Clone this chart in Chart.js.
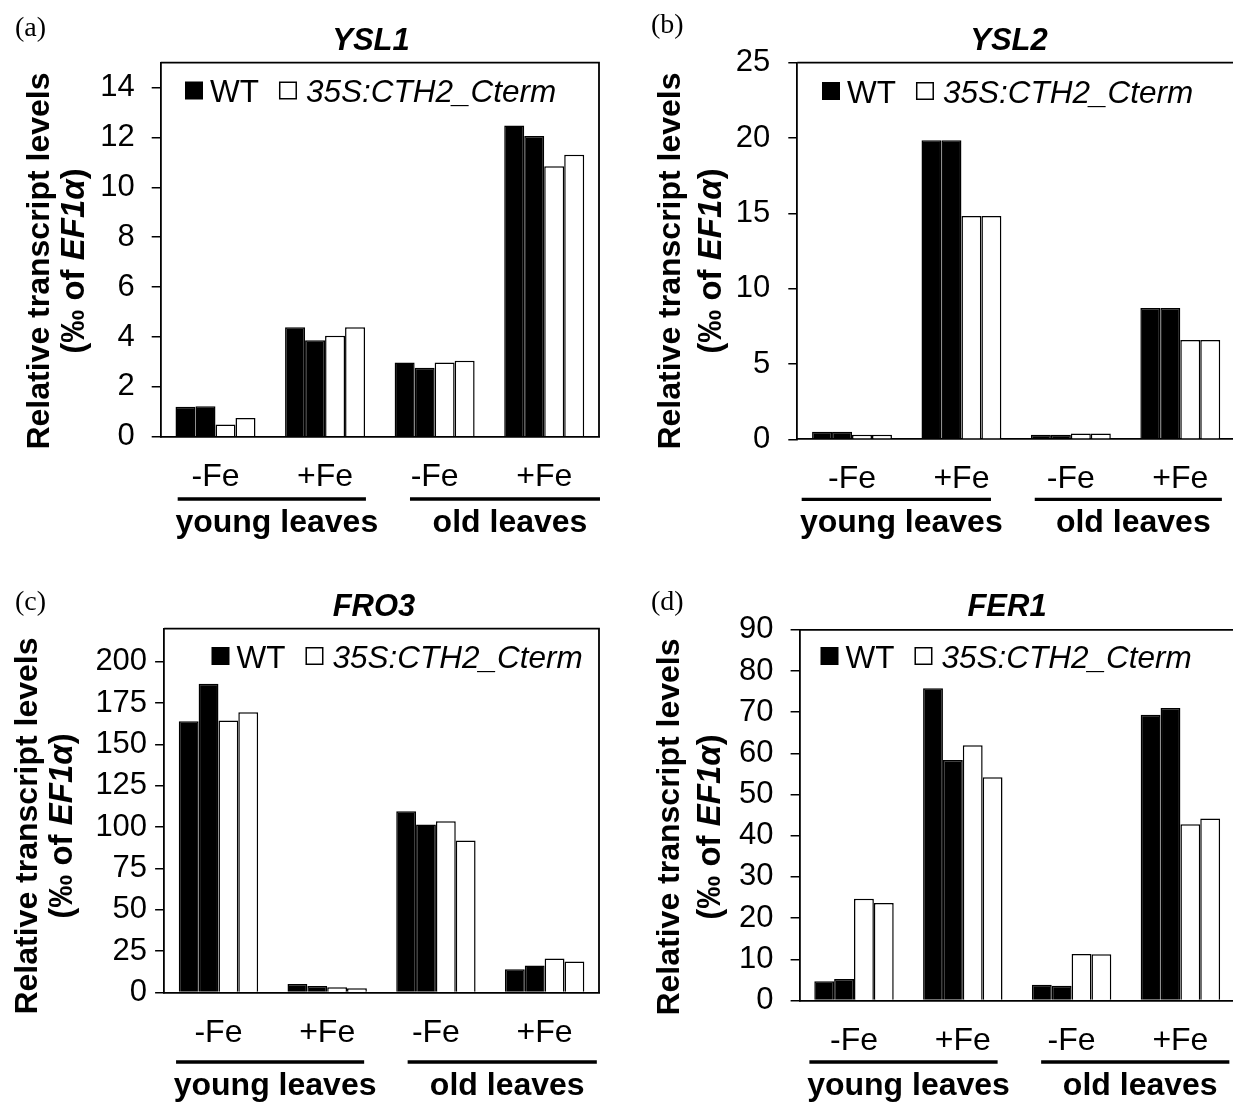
<!DOCTYPE html>
<html>
<head>
<meta charset="utf-8">
<script src="https://cdn.jsdelivr.net/npm/chart.js@4.4.0/dist/chart.umd.min.js"></script>
<style>
  html, body { margin: 0; padding: 0; background: #fff; width: 1233px; height: 1107px; overflow: hidden; position: relative; }
  canvas { position: absolute; }
</style>
</head>
<body>
<canvas id="ysl1"></canvas>
<canvas id="ysl2"></canvas>
<canvas id="fro3"></canvas>
<canvas id="fer1"></canvas>
<script>
// categories (treatment within each tissue) and group names
const categories = ['-Fe', '+Fe', '-Fe', '+Fe'];
const tissues = ['young leaves', 'old leaves'];
const seriesNames = ['WT', '35S:CTH2_Cterm'];

// YSL1 (two replicates per genotype)
const ysl1Wt1 = [1.20, 4.39, 2.98, 12.48];
const ysl1Wt2 = [1.22, 3.87, 2.77, 12.06];
const ysl1Cth1 = [0.49, 4.05, 2.98, 10.85];
const ysl1Cth2 = [0.75, 4.39, 3.05, 11.31];
const ysl1Ticks = [0, 2, 4, 6, 8, 10, 12, 14];

// YSL2
const ysl2Wt1 = [0.50, 19.85, 0.31, 8.72];
const ysl2Wt2 = [0.50, 19.85, 0.31, 8.72];
const ysl2Cth1 = [0.31, 14.83, 0.38, 6.60];
const ysl2Cth2 = [0.31, 14.83, 0.38, 6.60];
const ysl2Ticks = [0, 5, 10, 15, 20, 25];

// FRO3
const fro3Wt1 = [164.1, 5.1, 109.6, 14.1];
const fro3Wt2 = [186.7, 4.0, 101.6, 16.3];
const fro3Cth1 = [164.5, 3.2, 103.5, 20.5];
const fro3Cth2 = [169.4, 2.5, 91.9, 18.8];
const fro3Ticks = [0, 25, 50, 75, 100, 125, 150, 175, 200];

// FER1
const fer1Wt1 = [4.7, 75.8, 3.8, 69.4];
const fer1Wt2 = [5.2, 58.4, 3.6, 71.0];
const fer1Cth1 = [24.7, 62.0, 11.3, 42.8];
const fer1Cth2 = [23.7, 54.2, 11.2, 44.2];
const fer1Ticks = [0, 10, 20, 30, 40, 50, 60, 70, 80, 90];

const SANS = '"Liberation Sans", Arial, Helvetica, sans-serif';
const SERIF = '"Liberation Serif", "Times New Roman", serif';
Chart.defaults.color = '#000';
Chart.defaults.font.family = SANS;

const Y_W = 80;   // fixed y-axis box width
const X_H = 80;   // fixed x-axis box height

// panel layout, page coordinates
const panels = [
  { id: 'ysl1', box: [0, 0, 616, 560], area: { l: 160.7, t: 62.7, r: 599, b: 436.7 },
    yMax: 15, ticks: ysl1Ticks, series: [ysl1Wt1, ysl1Wt2, ysl1Cth1, ysl1Cth2], tickPad: 17,
    title: { text: 'YSL1', x: 371, y: 41 }, letter: { text: '(a)', x: 15, y: 29 },
    yTitle: { x1: 40, x2: 75, cy: 261 }, legend: { x: 185, y: 90.5 },
    lines: { y: 499, young: [-0.345, 0.373], old: [-0.225, 0.509] } },
  { id: 'ysl2', box: [616, 0, 624, 560], area: { l: 797.3, t: 62.7, r: 1235, b: 439.3 },
    yMax: 25, ticks: ysl2Ticks, series: [ysl2Wt1, ysl2Wt2, ysl2Cth1, ysl2Cth2], tickPad: 18,
    title: { text: 'YSL2', x: 1009, y: 41 }, letter: { text: '(b)', x: 651, y: 26 },
    yTitle: { x1: 671, x2: 712, cy: 261 }, legend: { x: 822, y: 91 },
    lines: { y: 499.3, young: [-0.46, 0.27], old: [-0.33, 0.38] } },
  { id: 'fro3', box: [0, 560, 616, 547], area: { l: 164.1, t: 628.7, r: 599, b: 992.5 },
    yMax: 220, ticks: fro3Ticks, series: [fro3Wt1, fro3Wt2, fro3Cth1, fro3Cth2], tickPad: 8,
    title: { text: 'FRO3', x: 374, y: 607 }, letter: { text: '(c)', x: 15, y: 603 },
    yTitle: { x1: 28, x2: 63, cy: 826 }, legend: { x: 211.5, y: 656 },
    lines: { y: 1062, young: [-0.39, 0.34], old: [-0.26, 0.48] } },
  { id: 'fer1', box: [616, 560, 624, 547], area: { l: 799.6, t: 629.8, r: 1234.8, b: 1000.5 },
    yMax: 90, ticks: fer1Ticks, series: [fer1Wt1, fer1Wt2, fer1Cth1, fer1Cth2], tickPad: 17,
    title: { text: 'FER1', x: 1007, y: 607 }, letter: { text: '(d)', x: 651, y: 603 },
    yTitle: { x1: 670, x2: 711, cy: 827 }, legend: { x: 820.5, y: 656 },
    lines: { y: 1062, young: [-0.41, 0.32], old: [-0.28, 0.45] } }
];

function drawYTitle(ctx, x1, x2, cy) {
  ctx.save();
  ctx.textBaseline = 'middle';
  ctx.fillStyle = '#000';
  ctx.translate(x1, cy);
  ctx.rotate(-Math.PI / 2);
  ctx.font = 'bold 32px ' + SANS;
  ctx.textAlign = 'center';
  ctx.fillText('Relative transcript levels', 0, 0);
  ctx.restore();

  // second line with italic gene name
  const parts = [['(\u2030 of ', 'bold 33px '], ['EF1\u03B1', 'italic bold 33px '], [')', 'bold 33px ']];
  ctx.save();
  ctx.textBaseline = 'middle';
  ctx.fillStyle = '#000';
  ctx.translate(x2, cy);
  ctx.rotate(-Math.PI / 2);
  let total = 0;
  parts.forEach(p => { ctx.font = p[1] + SANS; total += ctx.measureText(p[0]).width; });
  let x = -total / 2;
  ctx.textAlign = 'left';
  parts.forEach(p => { ctx.font = p[1] + SANS; ctx.fillText(p[0], x, 0); x += ctx.measureText(p[0]).width; });
  ctx.restore();
}

function makePanel(p) {
  const cv = document.getElementById(p.id);
  const [ox, oy, W, H] = p.box;
  cv.width = W;
  cv.height = H;
  cv.style.left = ox + 'px';
  cv.style.top = oy + 'px';
  const area = { l: p.area.l - ox, t: p.area.t - oy, r: p.area.r - ox, b: p.area.b - oy };

  const extras = {
    id: 'panelExtras',
    afterDraw: (chart) => {
      const ctx = chart.ctx;
      const ca = chart.chartArea;
      const xs = chart.scales.x;
      ctx.save();
      ctx.translate(-ox, -oy); // work in page coordinates for text
      ctx.fillStyle = '#000';
      ctx.strokeStyle = '#000';

      // frame top and right
      ctx.lineWidth = 1.8;
      ctx.beginPath();
      ctx.moveTo(ca.left + ox, ca.top + oy);
      ctx.lineTo(ca.right + ox, ca.top + oy);
      ctx.lineTo(ca.right + ox, ca.bottom + oy);
      ctx.stroke();

      // panel letter
      ctx.font = '28px ' + SERIF;
      ctx.textAlign = 'left';
      ctx.textBaseline = 'middle';
      ctx.fillText(p.letter.text, p.letter.x, p.letter.y);

      // gene title
      ctx.font = 'italic bold 31px ' + SANS;
      ctx.textAlign = 'center';
      ctx.fillText(p.title.text, p.title.x, p.title.y);

      // legend
      const sq = 18;
      let lx = p.legend.x;
      const ly = p.legend.y;
      ctx.textAlign = 'left';
      ctx.textBaseline = 'alphabetic';
      ctx.fillRect(lx, ly - sq / 2, sq, sq);
      lx += sq + 7;
      ctx.font = '31.5px ' + SANS;
      ctx.fillText(seriesNames[0], lx, ly + 11.5);
      lx += ctx.measureText(seriesNames[0]).width + 20;
      ctx.lineWidth = 1.5;
      ctx.strokeRect(lx + 0.75, ly - sq / 2 + 0.75, sq - 1.5, sq - 1.5);
      lx += sq + 9;
      ctx.font = 'italic 31.5px ' + SANS;
      ctx.fillText(seriesNames[1], lx, ly + 11.5);

      // y-axis title
      drawYTitle(ctx, p.yTitle.x1, p.yTitle.x2, p.yTitle.cy);

      // tissue group lines and labels
      const w = xs.getPixelForValue(1) - xs.getPixelForValue(0);
      const spans = [
        [xs.getPixelForValue(0) + p.lines.young[0] * w, xs.getPixelForValue(1) + p.lines.young[1] * w],
        [xs.getPixelForValue(2) + p.lines.old[0] * w, xs.getPixelForValue(3) + p.lines.old[1] * w]
      ];
      ctx.lineWidth = 3.3;
      ctx.font = 'bold 32px ' + SANS;
      ctx.textAlign = 'center';
      ctx.textBaseline = 'alphabetic';
      spans.forEach((s, i) => {
        const x0 = s[0] + ox, x1 = s[1] + ox;
        ctx.beginPath();
        ctx.moveTo(x0, p.lines.y);
        ctx.lineTo(x1, p.lines.y);
        ctx.stroke();
        ctx.fillText(tissues[i], (x0 + x1) / 2 + 5, p.lines.y + 33);
      });
      ctx.restore();
    }
  };

  const bar = (data, fill) => ({
    data: data,
    backgroundColor: fill,
    borderColor: '#000',
    borderWidth: 1.5,
    categoryPercentage: 0.73,
    barPercentage: 1.0
  });

  new Chart(cv, {
    type: 'bar',
    data: {
      labels: categories,
      datasets: [
        bar(p.series[0], '#000'),
        bar(p.series[1], '#000'),
        bar(p.series[2], '#fff'),
        bar(p.series[3], '#fff')
      ]
    },
    options: {
      responsive: false,
      animation: false,
      devicePixelRatio: 1,
      layout: {
        padding: { left: area.l - Y_W, top: area.t, right: W - area.r, bottom: H - area.b - X_H }
      },
      plugins: { legend: { display: false }, tooltip: { enabled: false }, title: { display: false } },
      scales: {
        x: {
          grid: { display: false },
          border: { display: true, color: '#000', width: 1.8 },
          ticks: { color: '#000', font: { size: 32 }, padding: 13, maxRotation: 0 },
          afterFit: (s) => { s.height = X_H; s.paddingLeft = 0; s.paddingRight = 0; }
        },
        y: {
          min: 0,
          max: p.yMax,
          afterBuildTicks: (s) => { s.ticks = p.ticks.map(v => ({ value: v })); },
          afterFit: (s) => { s.width = Y_W; s.paddingTop = 0; s.paddingBottom = 0; },
          grid: { drawOnChartArea: false, drawTicks: true, tickLength: 9, color: '#000', lineWidth: 1.5 },
          border: { display: true, color: '#000', width: 1.8 },
          ticks: { color: '#000', font: { size: 31 }, padding: p.tickPad }
        }
      }
    },
    plugins: [extras]
  });
}

panels.forEach(makePanel);
</script>
</body>
</html>
